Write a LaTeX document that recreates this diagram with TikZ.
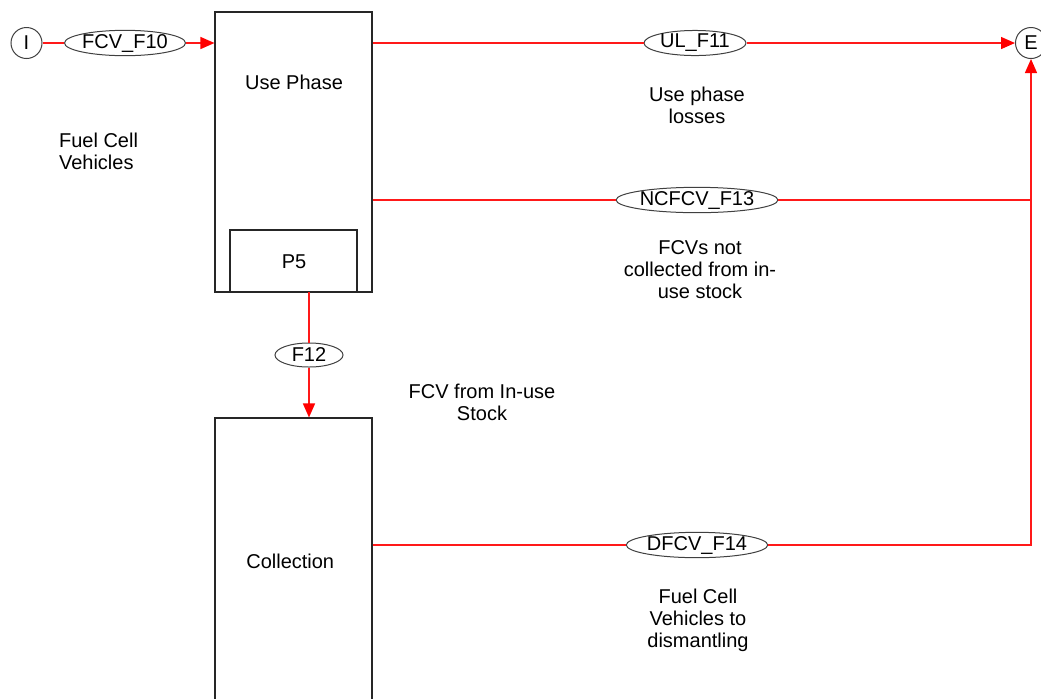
\documentclass[tikz,border=0pt]{standalone}
\usepackage{fontspec}
\setmainfont{Liberation Sans}
\usetikzlibrary{shapes.geometric,arrows.meta}

\begin{document}
\begin{tikzpicture}[x=0.5pt,y=-0.5pt,
  flow/.style={draw=red!90!white,line width=0.7pt},
  flowarrow/.style={flow,-{Triangle[length=7pt,width=6pt,fill=red,color=red]}},
  flowname/.style={ellipse,draw=black!75,fill=white,line width=0.5pt,inner sep=0pt,
    minimum height=12pt,font=\fontsize{10}{11}\selectfont},
  process/.style={draw=black!85,line width=0.55pt,inner sep=0pt},
  term/.style={circle,draw=black!75,line width=0.5pt,minimum size=15.5pt,inner sep=0pt,
    font=\fontsize{10}{11}\selectfont},
  note/.style={align=center,font=\fontsize{10}{11}\selectfont}]
\useasboundingbox (0,0) rectangle (1041,698);

% processes
\node[process,minimum width=78.5pt,minimum height=140pt] (use) at (293.5,152) {};
\node[process,minimum width=63.5pt,minimum height=31pt] (p5) at (293.5,261) {};
\node[process,minimum width=78.5pt,minimum height=150pt] (coll) at (293.5,568) {};
\foreach \n/\x/\y/\l in
  { tuse/294/82/Use Phase,
    tp5/294/262/P5,
    tcoll/293/561/Collection
  }
  \node[note] (\n) at (\x,\y) {\l};

% import / export
\node[term] (I) at (26.5,43) {I};
\node[term] (E) at (1031,43) {E};
\coordinate (c13) at (1031,200);
\coordinate (c14) at (1031,545);
\coordinate (f12top) at (309,292);

% flow names
\node[flowname,minimum width=58pt] (f10) at (125,43) {FCV\_F10};
\node[flowname,minimum width=51pt] (f11) at (695,43) {UL\_F11};
\node[flowname,minimum width=34pt] (f12) at (309,355) {F12};
\node[flowname,minimum width=73pt] (f13) at (697,200) {NCFCV\_F13};
\node[flowname,minimum width=66pt] (f14) at (697,545) {DFCV\_F14};

% flows
\draw[flow] (I) -- (f10);
\draw[flowarrow] (f10) -- (f10 -| use.west);
\draw[flow] (use.east |- f11) -- (f11);
\draw[flowarrow] (f11) -- (E);
\draw[flow] (f12top) -- (f12);
\draw[flowarrow] (f12) -- (f12 |- coll.north);
\draw[flow] (use.east |- f13) -- (f13);
\draw[flow] (f13) -- (c13);
\draw[flow] (coll.east |- f14) -- (f14);
\draw[flow] (f14) -- (c14) -- (c13);
\draw[flowarrow] (c13) -- (E);

% flow notes
\node[note,align=left,anchor=west] (nfcv) at (52,151) {Fuel Cell\\Vehicles};
\node[note] (n11) at (697,105) {Use phase\\losses};
\node[note] (n13) at (700,270) {FCVs not\\collected from in-\\use stock};
\node[note] (n12) at (482,402) {FCV from In-use\\Stock};
\node[note] (n14) at (698,620) {Fuel Cell\\Vehicles to\\dismantling};
\end{tikzpicture}
\end{document}
